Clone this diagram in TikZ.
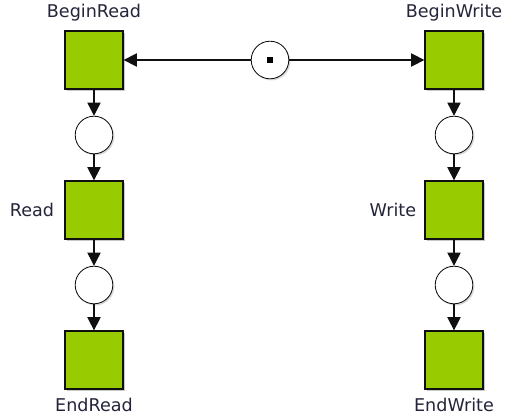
\documentclass[tikz,border=0pt]{standalone}
\usepackage{fontspec}
\setmainfont{DejaVu Sans}
\usetikzlibrary{arrows.meta,positioning,shadows}
\definecolor{leaf}{HTML}{99CC00}
\definecolor{ink}{HTML}{24243A}
\definecolor{edge}{HTML}{101010}

\begin{document}
\begin{tikzpicture}[x=1cm,y=1cm,
  trans/.style={draw=edge,line width=0.9pt,fill=leaf,minimum size=1.45cm,inner sep=0pt,
    drop shadow={shadow xshift=0.05cm,shadow yshift=-0.05cm,fill=black,opacity=0.22}},
  place/.style={circle,draw=edge,line width=0.6pt,fill=white,minimum size=0.94cm,inner sep=0pt,
    drop shadow={shadow xshift=0.04cm,shadow yshift=-0.04cm,fill=black,opacity=0.15}},
  tokn/.style={fill=black,minimum size=0.13cm,inner sep=0pt},
  lab/.style={font=\fontsize{12.5}{15}\selectfont,text=ink,inner sep=0pt},
  arc/.style={draw=edge,line width=0.9pt,-{Triangle[length=0.33cm,width=0.33cm]}}]
\useasboundingbox (0,0) rectangle (12.65,-10.475);
% reader side
\node[trans] (bread) at (2.35,-1.5) {};
\node[place] (rp1) at (2.35,-3.375) {};
\node[trans] (read) at (2.35,-5.25) {};
\node[place] (rp2) at (2.35,-7.125) {};
\node[trans] (eread) at (2.35,-9.0) {};
\node[lab,above=0.22cm of bread] (lbread) {BeginRead};
\node[lab,left=0.25cm of read] (lread) {Read};
\node[lab,below=0.2cm of eread] (leread) {EndRead};
% writer side
\node[trans] (bwrite) at (11.35,-1.5) {};
\node[place] (wp1) at (11.35,-3.375) {};
\node[trans] (write) at (11.35,-5.25) {};
\node[place] (wp2) at (11.35,-7.125) {};
\node[trans] (ewrite) at (11.35,-9.0) {};
\node[lab,above=0.22cm of bwrite] (lbwrite) {BeginWrite};
\node[lab,left=0.2cm of write] (lwrite) {Write};
\node[lab,below=0.2cm of ewrite] (lewrite) {EndWrite};
% shared place with its token
\node[place] (mutex) at (6.75,-1.5) {};
\node[tokn] (tok) at (mutex) {};
% arcs
\draw[arc] (mutex) -- (bread);
\draw[arc] (mutex) -- (bwrite);
\draw[arc] (bread) -- (rp1);
\draw[arc] (rp1) -- (read);
\draw[arc] (read) -- (rp2);
\draw[arc] (rp2) -- (eread);
\draw[arc] (bwrite) -- (wp1);
\draw[arc] (wp1) -- (write);
\draw[arc] (write) -- (wp2);
\draw[arc] (wp2) -- (ewrite);
\end{tikzpicture}
\end{document}
